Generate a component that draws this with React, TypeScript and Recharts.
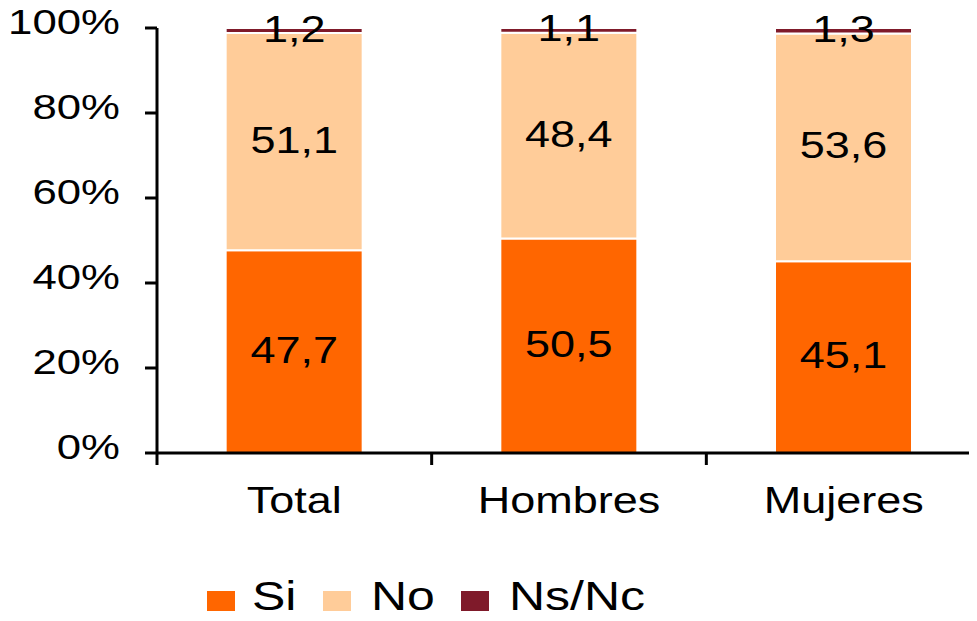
import { BarChart, Bar, XAxis, YAxis, Legend, LabelList } from 'recharts';

const categories = ['Total', 'Hombres', 'Mujeres'];
const siValues = [47.7, 50.5, 45.1];
const noValues = [51.1, 48.4, 53.6];
const nsncValues = [1.2, 1.1, 1.3];
const yTicks = [0, 20, 40, 60, 80, 100];
const seriesNames = ['Si', 'No', 'Ns/Nc'];

const data = categories.map((name, i) => ({
  name,
  si: siValues[i],
  no: noValues[i],
  nsnc: nsncValues[i],
}));

const FONT = '"Liberation Sans", Arial, sans-serif';
const STRETCH = 1.25;
const CHART_W = 961;
const CHART_H = 605;
const AXIS_W = 149;
const RIGHT = -12; // el area de dibujo sigue un poco mas alla del borde
const BAND = (CHART_W - AXIS_W - RIGHT) / categories.length;

const fmt = (v: number) => v.toFixed(1).replace('.', ',');

// etiquetas del eje Y
function YTick({ x, y, payload }: any) {
  return (
    <text
      transform={`translate(${x},${y + 6}) scale(${STRETCH},1)`}
      textAnchor="end"
      fontSize={35}
      fontFamily={FONT}
      fill="#000"
    >
      {payload.value}%
    </text>
  );
}

// etiquetas del eje X con marcas en los bordes de cada categoria
function XTick({ x, y, payload, index }: any) {
  return (
    <g>
      <line x1={x - BAND / 2} x2={x - BAND / 2} y1={y} y2={y + 12} stroke="#000" strokeWidth={3} />
      {index === categories.length - 1 && (
        <line x1={x + BAND / 2} x2={x + BAND / 2} y1={y} y2={y + 12} stroke="#000" strokeWidth={3} />
      )}
      <text
        transform={`translate(${x},${y + 60}) scale(${STRETCH},1)`}
        textAnchor="middle"
        fontSize={36}
        fontFamily={FONT}
        fill="#000"
      >
        {payload.value}
      </text>
    </g>
  );
}

function SegmentLabel({ x, y, width, height, value }: any) {
  const cx = Number(x) + Number(width) / 2;
  const cy = Number(y) + Number(height) / 2 + 11;
  return (
    <text
      transform={`translate(${cx},${cy}) scale(${STRETCH},1)`}
      textAnchor="middle"
      fontSize={36}
      fontFamily={FONT}
      fill="#000"
    >
      {fmt(Number(value))}
    </text>
  );
}

const legendGaps = [0, 26, 26];

// leyenda en html
function LegendContent({ payload }: any) {
  const items = [...(payload || [])].sort(
    (a: any, b: any) => seriesNames.indexOf(a.value) - seriesNames.indexOf(b.value)
  );
  return (
    <div style={{ display: 'flex', alignItems: 'flex-end', height: 30, fontFamily: FONT }}>
      {items.map((item: any, i: number) => (
        <div key={item.value} style={{ display: 'flex', alignItems: 'flex-end', marginLeft: legendGaps[i] }}>
          <span style={{ width: 28, height: 20, background: item.color, display: 'inline-block' }} />
          <span
            style={{
              display: 'inline-block',
              fontSize: 40,
              lineHeight: '30px',
              height: 30,
              marginLeft: i === 0 ? 17 : 20,
              transform: `scaleX(${STRETCH})`,
              transformOrigin: 'left bottom',
              width: i === 0 ? 45 : i === 1 ? 64 : 140,
              whiteSpace: 'nowrap',
              color: '#000',
            }}
          >
            {item.value}
          </span>
        </div>
      ))}
    </div>
  );
}

export default function App() {
  return (
    <div style={{ width: CHART_W, height: CHART_H, position: 'relative' }}>
      <BarChart
        width={CHART_W}
        height={CHART_H}
        data={data}
        margin={{ top: 20, right: RIGHT, bottom: 0, left: 0 }}
        barCategoryGap="25%"
      >
        <XAxis
          dataKey="name"
          height={160}
          axisLine={{ stroke: '#000', strokeWidth: 3 }}
          tickLine={false}
          tickSize={0}
          tickMargin={0}
          tick={<XTick />}
          interval={0}
        />
        <YAxis
          width={AXIS_W}
          domain={[0, 100]}
          ticks={yTicks}
          axisLine={{ stroke: '#000', strokeWidth: 3 }}
          tickLine={{ stroke: '#000', strokeWidth: 3 }}
          tickSize={12}
          tickMargin={25}
          tick={<YTick />}
        />
        <Legend
          layout="horizontal"
          verticalAlign="middle"
          align="center"
          wrapperStyle={{ left: 199, top: 573, width: 480, height: 30 }}
          content={<LegendContent />}
        />
        <Bar dataKey="si" name="Si" stackId="a" fill="#FF6600" stroke="#fff" strokeWidth={2} isAnimationActive={false}>
          <LabelList dataKey="si" content={<SegmentLabel />} />
        </Bar>
        <Bar dataKey="no" name="No" stackId="a" fill="#FFCC99" stroke="#fff" strokeWidth={2} isAnimationActive={false}>
          <LabelList dataKey="no" content={<SegmentLabel />} />
        </Bar>
        <Bar dataKey="nsnc" name="Ns/Nc" stackId="a" fill="#7F1A2A" stroke="#fff" strokeWidth={2} isAnimationActive={false}>
          <LabelList dataKey="nsnc" content={<SegmentLabel />} />
        </Bar>
      </BarChart>
    </div>
  );
}
